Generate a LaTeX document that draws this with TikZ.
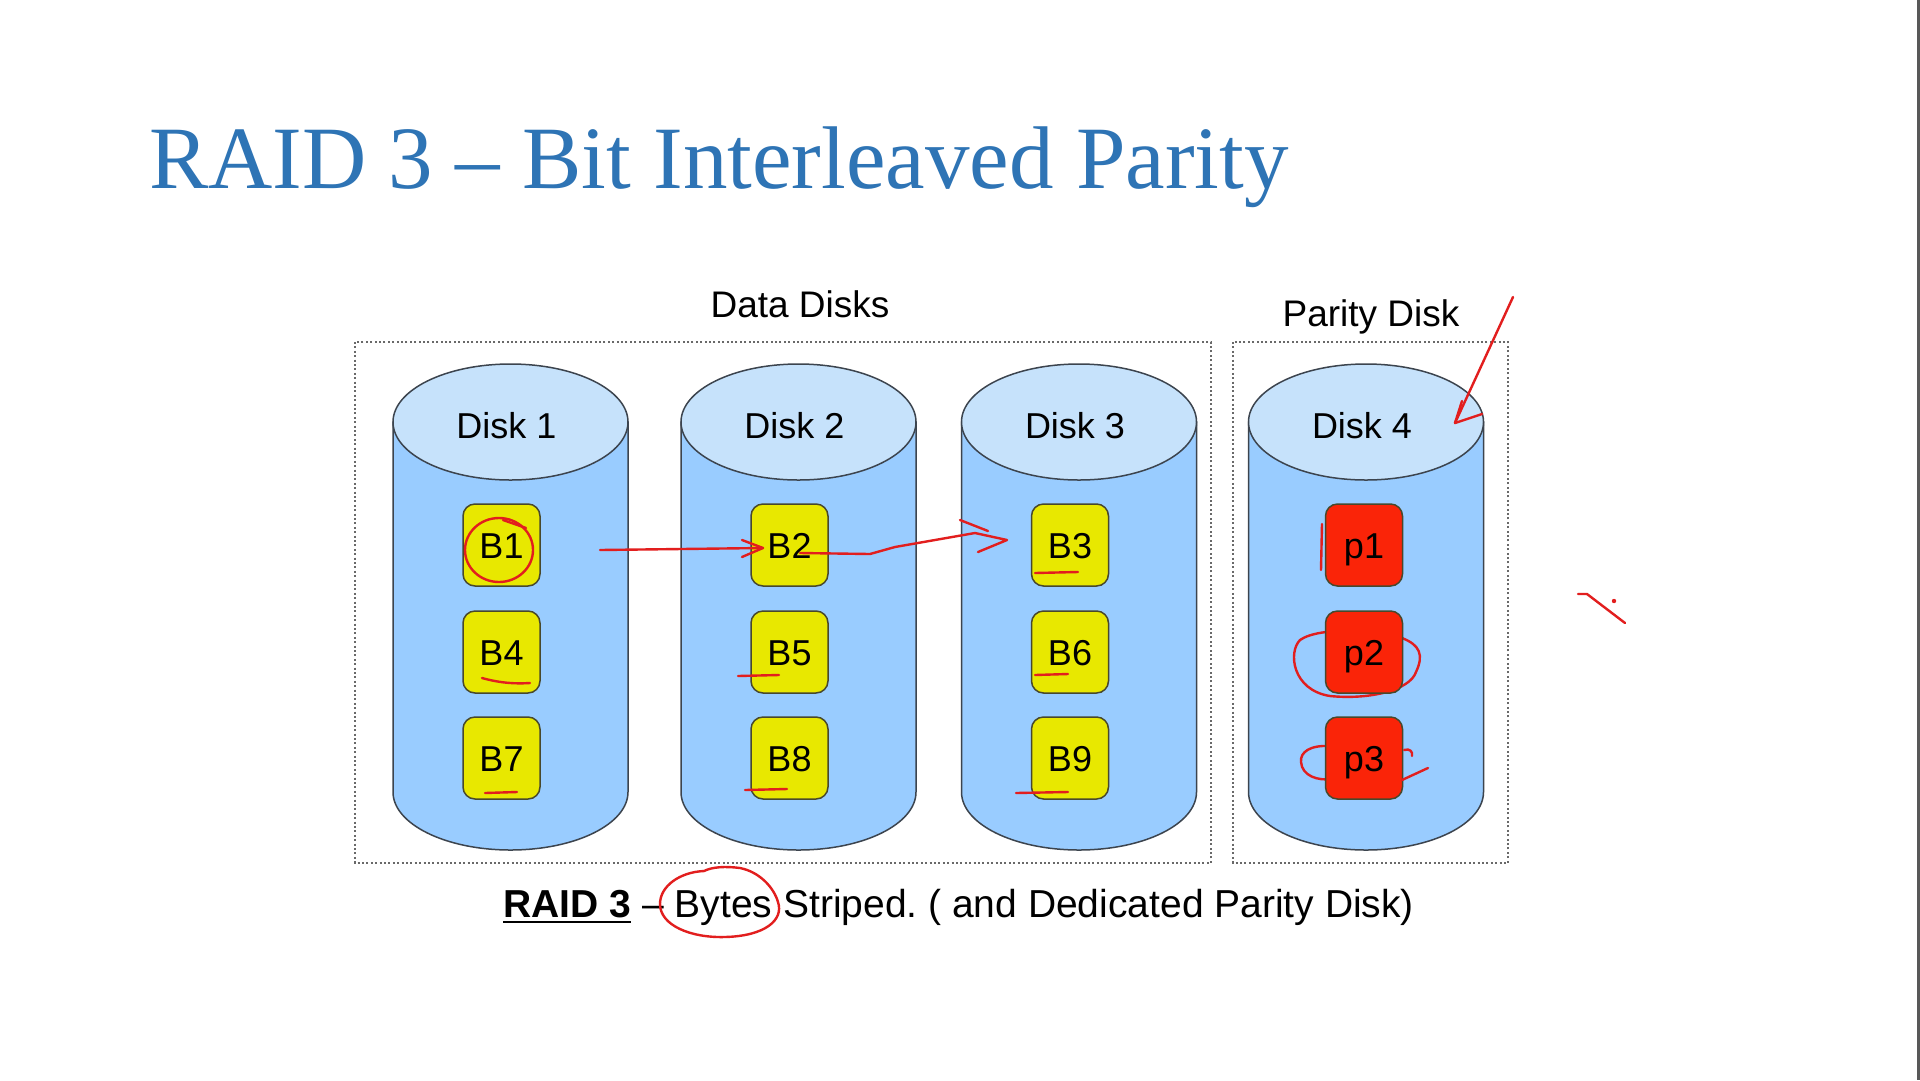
\documentclass[tikz,border=0pt]{standalone}
\usepackage{fontspec}
\setmainfont{Liberation Sans}
\newfontfamily\titlefont{Liberation Serif}
\usetikzlibrary{calc}
\frenchspacing

\definecolor{titleblue}{RGB}{46,116,181}
\definecolor{diskbody}{RGB}{153,204,255}
\definecolor{disktop}{RGB}{198,226,251}
\definecolor{diskedge}{RGB}{60,68,78}
\definecolor{blockyellow}{RGB}{232,232,0}
\definecolor{blockedge}{RGB}{72,72,44}
\definecolor{parityred}{RGB}{250,36,8}
\definecolor{ink}{RGB}{226,30,30}
\definecolor{framedot}{RGB}{105,105,105}
\definecolor{edgebar}{RGB}{88,88,88}

\newcommand\labelsize{\fontsize{36}{40}\selectfont}
\newcommand\headsize{\fontsize{37}{42}\selectfont}
\newcommand\captionsize{\fontsize{39}{44}\selectfont}

\tikzset{
  framebox/.style={draw=framedot, line width=2pt, dash pattern=on 2pt off 2.4pt},
  diskside/.style={fill=diskbody, draw=diskedge, line width=1.5pt},
  disklid/.style={fill=disktop, draw=diskedge, line width=1.5pt},
  blk/.style={draw=blockedge, line width=1.5pt, rounded corners=12pt,
    minimum width=77pt, minimum height=82pt, inner sep=0pt,
    fill=blockyellow, font=\labelsize, text height=26pt, text depth=0pt},
  pblk/.style={blk, fill=parityred},
  lbl/.style={font=\labelsize, inner sep=0pt, anchor=base},
  head/.style={font=\headsize, inner sep=0pt, anchor=base},
  inkline/.style={draw=ink, line width=2.4pt, line cap=round, line join=round},
}

\begin{document}
\begin{tikzpicture}[x=1pt, y=-1pt]
  % page
  \useasboundingbox (0,0) rectangle (1920,1080);
  \fill[white] (0,0) rectangle (1920,1080);
  \fill[edgebar] (1917,0) rectangle (1920,1080);

  % title
  \node[anchor=base west, inner sep=0pt, text=titleblue,
        font=\titlefont\fontsize{89}{100}\selectfont] (title) at (149,188)
        {RAID 3 – Bit Interleaved Parity};

  % group frames and their headings
  \draw[framebox] (355,342) rectangle (1211,863);
  \draw[framebox] (1233,342) rectangle (1508,863);
  \node[head] (hdata) at (800,317) {Data Disks};
  \node[head] (hpar) at (1371,326) {Parity Disk};

  % the four disks
  \foreach \cx/\n in {510.5/1, 798.5/2, 1079/3, 1366/4} {
    \path[diskside] (\cx-117.5,422) -- (\cx-117.5,792)
       arc[start angle=180, end angle=0, x radius=117.5, y radius=58]
       -- (\cx+117.5,422) -- cycle;
    \path[disklid] (\cx,422) ellipse[x radius=117.5, y radius=58];
    \node[lbl] (disk\n) at (\cx-4,438) {Disk \n};
  }

  % data blocks
  \node[blk] (b1) at (501.5,545) {B1};
  \node[blk] (b4) at (501.5,652) {B4};
  \node[blk] (b7) at (501.5,758) {B7};
  \node[blk] (b2) at (789.5,545) {B2};
  \node[blk] (b5) at (789.5,652) {B5};
  \node[blk] (b8) at (789.5,758) {B8};
  \node[blk] (b3) at (1070,545) {B3};
  \node[blk] (b6) at (1070,652) {B6};
  \node[blk] (b9) at (1070,758) {B9};

  % pen marks lying under the parity blocks
  \draw[inkline] (1322,524) -- (1321,570);
  \draw[inkline] (1400,640) .. controls (1380,630) and (1320,626) .. (1300,640)
       .. controls (1288,652) and (1292,690) .. (1330,696)
       .. controls (1370,700) and (1410,690) .. (1416,672)
       .. controls (1424,655) and (1420,645) .. (1402,638);
  \draw[inkline] (1330,746) .. controls (1310,745) and (1300,752) .. (1301,762)
       .. controls (1302,776) and (1318,781) .. (1332,779);

  % parity blocks
  \node[pblk] (p1) at (1364,545) {p1};
  \node[pblk] (p2) at (1364,652) {p2};
  \node[pblk] (p3) at (1364,758) {p3};

  % caption
  \node[anchor=base west, inner sep=0pt, font=\captionsize\bfseries] (capa) at (503,917) {RAID 3};
  \node[anchor=base west, inner sep=0pt, font=\captionsize] (capb) at (capa.base east)
        {\ – Bytes Striped. ( and Dedicated Parity Disk)};
  \draw[line width=2.5pt] ([yshift=-5pt]capa.base west) -- ([yshift=-5pt]capa.base east);

  % pen annotations
  \draw[inkline] (499,550) ellipse[x radius=34, y radius=32];
  \draw[inkline] (503,520) -- (526,528);
  \draw[inkline] (482,678) .. controls (500,683) and (515,684) .. (530,683);
  \draw[inkline] (485,793) -- (517,792);
  \draw[inkline] (738,676) -- (779,675);
  \draw[inkline] (745,790) -- (787,789);
  \draw[inkline] (1035,573) -- (1078,572);
  \draw[inkline] (1035,675) -- (1068,674);
  \draw[inkline] (1016,793) -- (1068,792);
  \draw[inkline] (1404,750) .. controls (1410,748) and (1413,752) .. (1412,756);
  \draw[inkline] (1402,780) -- (1428,768);

  % B1 -> B2 -> B3 strokes
  \draw[inkline] (600,550) -- (763,548);
  \draw[inkline] (742,540) -- (763,548) -- (742,557);
  \draw[inkline] (800,553) -- (870,554) -- (895,547) -- (935,540) -- (975,533) -- (1007,540) -- (978,552);
  \draw[inkline] (960,520) -- (988,531);

  % pointer to the parity disk
  \draw[inkline] (1513,297) -- (1455,423);
  \draw[inkline] (1462,401) -- (1455,423) -- (1482,414);

  % loop round "Bytes"
  \draw[inkline] (704,871) .. controls (680,872) and (660,886) .. (660,904)
       .. controls (660,925) and (690,938) .. (725,937)
       .. controls (765,936) and (784,920) .. (778,902)
       .. controls (774,888) and (760,872) .. (740,868)
       .. controls (725,866) and (712,867) .. (704,871);

  % stray mark on the right
  \draw[inkline] (1578,594) -- (1587,594) -- (1625,623);
  \fill[ink] (1614,601) circle[radius=2.2];
\end{tikzpicture}
\end{document}
